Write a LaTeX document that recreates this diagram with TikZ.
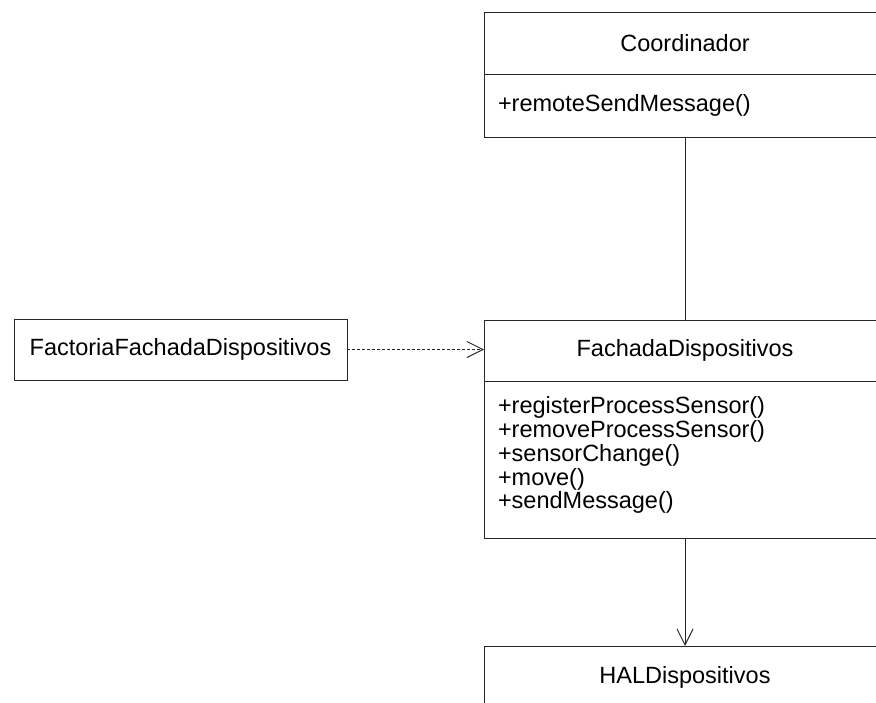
\documentclass[tikz,border=0pt]{standalone}
\usepackage{fontspec}
\setmainfont{Liberation Sans}
\usetikzlibrary{arrows.meta,positioning}

\begin{document}
\begin{tikzpicture}[x=0.5pt, y=-0.5pt,
  classname/.style={rectangle, draw=black!85, line width=0.5pt, outer sep=0pt, minimum width=201pt, minimum height=31pt, font=\fontsize{11.75}{10.85}\selectfont},
  classops/.style={rectangle, draw=black!85, line width=0.5pt, outer sep=0pt, text width=187pt, inner xsep=7pt, align=left, font=\fontsize{11.75}{10.85}\selectfont},
  arrow/.style={-{Straight Barb[length=8pt, width=8pt]}, draw=black!85, line width=0.5pt},
  dep/.style={arrow, dash pattern=on 1.5pt off 1pt}
]
\path[use as bounding box, clip] (0,0) rectangle (876,702);

% Coordinador
\node[classname] (coordName) at (685, 43) {Coordinador};
\node[classops, minimum height=31.5pt, below=0pt of coordName] (coordOps) {+remoteSendMessage()};

% Fachada
\node[classname, minimum height=30.5pt] (facName) at (685, 350.5) {FachadaDispositivos};
\node[classops, minimum height=78.5pt, below=0pt of facName] (facOps) {+registerProcessSensor()\\ +removeProcessSensor()\\ +sensorChange()\\ +move()\\ +sendMessage()\\[-4pt]\null};

% Factoria
\node[classname, minimum width=166.5pt, minimum height=30.5pt] (factoria) at (180.5, 349.5) {FactoriaFachadaDispositivos};

% HAL
\node[classname] (halName) at (685, 677) {HALDispositivos};

% Connections
\draw[line width=0.5pt, black!85] (coordOps.south) -- (facName.north);
\draw[dep] (factoria.east) -- (factoria.east -| facName.west);
\draw[arrow] (facOps.south) -- (halName.north);

\end{tikzpicture}
\end{document}
